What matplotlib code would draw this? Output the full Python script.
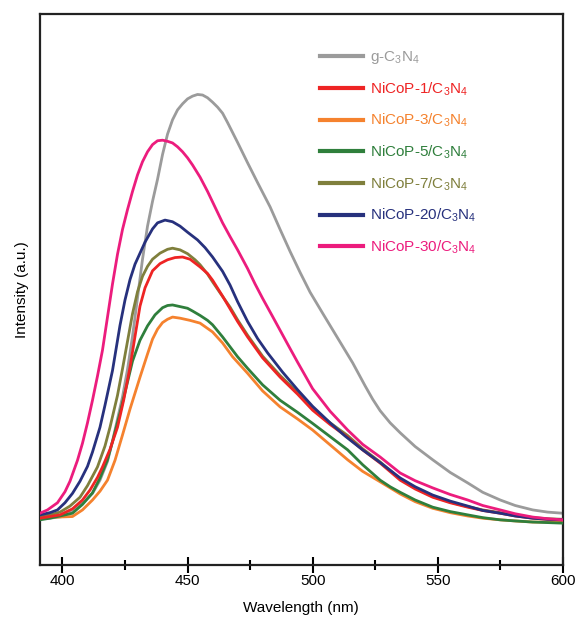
import matplotlib
matplotlib.use("Agg")
import matplotlib.pyplot as plt
from matplotlib.ticker import MultipleLocator

plt.rcParams["font.family"] = ["Liberation Sans", "DejaVu Sans"]
plt.rcParams["mathtext.default"] = "regular"

# PL spectra (wavelength in nm, intensity in a.u.)
wl_g = [391, 395, 400, 403, 406, 409, 412, 415, 418, 420, 422, 424, 426, 428, 430, 432,
        434, 436, 438, 440, 442, 444, 446, 448, 450, 452, 454, 456, 458, 460, 462, 464,
        466, 468, 470, 474, 478, 483, 487, 491, 495, 499, 504, 510, 516, 521, 524, 527,
        531, 535, 541, 548, 555, 562, 568, 575, 581, 588, 594, 600]
int_g = [8.4, 8.5, 8.8, 9.6, 10.6, 11.6, 13.0, 15.4, 18.8, 22.5, 26.5, 30.5, 35.5, 41.5,
         48.5, 55.5, 61.5, 66.0, 70.0, 74.5, 78.2, 80.8, 82.6, 83.7, 84.6, 85.1, 85.4, 85.3,
         84.8, 84.0, 83.1, 82.0, 80.3, 78.5, 76.7, 73.0, 69.4, 65.0, 60.9, 56.9, 53.1, 49.5,
         45.7, 41.2, 36.7, 32.5, 30.1, 28.0, 25.8, 24.0, 21.5, 19.1, 16.8, 14.9, 13.2, 11.8,
         10.8, 10.0, 9.6, 9.4]

wl_1 = [391, 395, 399, 404, 408, 411, 414, 416, 419, 422, 424.5, 427, 429, 431, 433, 436,
        439, 442, 445, 448, 451, 455, 458, 460, 464, 467, 470, 474, 480, 487, 494, 500,
        507, 514, 520, 527, 535, 541, 548, 555, 562, 568, 575, 581, 588, 594, 600]
int_1 = [8.5, 8.8, 9.1, 10.2, 11.8, 13.6, 15.9, 17.8, 21.0, 25.0, 30.0, 35.9, 41.5, 47.0,
         50.3, 53.4, 54.7, 55.4, 55.8, 55.9, 55.5, 54.1, 52.9, 51.7, 48.8, 46.5, 44.2, 41.4,
         37.6, 34.1, 31.0, 28.1, 25.5, 23.2, 20.9, 18.5, 15.4, 13.8, 12.3, 11.3, 10.5, 9.9,
         9.4, 8.9, 8.5, 8.3, 8.2]

wl_3 = [391, 398, 404, 408, 412, 415, 418, 421, 424, 427, 431, 434, 436, 438, 440, 442,
        444, 447, 451, 455, 460, 464, 468, 474, 480, 487, 494, 500, 507, 514, 520, 527,
        531, 535, 541, 548, 555, 562, 568, 575, 581, 588, 594, 600]
int_3 = [8.7, 8.7, 8.8, 10.0, 11.8, 13.4, 15.4, 19.0, 23.6, 28.3, 34.1, 38.3, 41.0, 42.8,
         44.0, 44.6, 45.0, 44.8, 44.4, 43.9, 42.3, 40.3, 37.8, 34.8, 31.6, 28.7, 26.5, 24.5,
         21.8, 19.1, 17.0, 15.1, 14.0, 12.9, 11.5, 10.3, 9.5, 8.9, 8.5, 8.2, 8.0, 7.8, 7.8,
         7.8]

wl_5 = [391, 395, 400, 404, 408, 412, 415, 418, 420, 423, 426, 428, 431, 434, 437, 440,
        442, 444, 447, 450, 452, 455, 458, 460, 464, 467, 470, 474, 480, 487, 494, 500,
        507, 514, 520, 527, 531, 535, 541, 548, 555, 562, 568, 575, 581, 588, 594, 600]
int_5 = [8.2, 8.5, 9.0, 9.4, 11.0, 13.1, 15.8, 19.1, 22.4, 27.6, 33.2, 37.0, 40.8, 43.4,
         45.4, 46.7, 47.1, 47.2, 46.9, 46.6, 46.1, 45.3, 44.4, 43.6, 41.4, 39.6, 37.8, 35.7,
         32.7, 29.9, 27.7, 25.7, 23.3, 20.9, 18.2, 15.4, 14.2, 13.2, 11.8, 10.5, 9.7, 9.1,
         8.6, 8.2, 8.0, 7.8, 7.7, 7.6]

wl_7 = [391, 395, 399, 403, 407, 410, 414, 417, 419, 422, 424, 426, 428, 430, 432, 434,
        436, 439, 442, 444, 447, 450, 453, 455, 458, 460, 463, 467, 470, 474, 480, 487,
        494, 500, 507, 514, 520, 527, 535, 541, 548, 555, 562, 568, 575, 581, 588, 594, 600]
int_7 = [8.7, 9.1, 9.6, 10.7, 12.3, 14.4, 17.8, 21.6, 25.0, 30.8, 35.6, 40.6, 45.6, 49.6,
         52.4, 54.2, 55.5, 56.6, 57.3, 57.5, 57.2, 56.5, 55.4, 54.5, 52.8, 51.4, 49.4, 46.8,
         44.5, 41.7, 37.9, 34.4, 31.3, 28.4, 25.8, 23.5, 21.1, 18.7, 15.6, 14.0, 12.5, 11.4,
         10.6, 10.0, 9.5, 9.0, 8.6, 8.4, 8.3]

wl_20 = [391, 395, 398, 401, 404, 407, 410, 412, 415, 417, 420, 423, 425, 427, 429, 431,
         433, 436, 438, 441, 444, 447, 450, 454, 457, 460, 464, 467, 470, 474, 478, 482,
         488, 494, 500, 507, 513, 520, 527, 535, 541, 548, 555, 562, 568, 575, 581, 588,
         594, 600]
int_20 = [9.1, 9.5, 10.0, 11.3, 13.0, 15.2, 17.9, 20.5, 25.0, 29.0, 35.3, 43.5, 48.1, 51.8,
          54.6, 56.6, 58.6, 61.0, 62.1, 62.6, 62.3, 61.5, 60.4, 59.0, 57.6, 55.9, 53.3, 50.8,
          47.8, 44.2, 41.1, 38.5, 35.0, 31.8, 28.8, 25.8, 23.4, 20.9, 18.6, 15.8, 14.2, 12.7,
          11.6, 10.7, 9.9, 9.4, 8.9, 8.5, 8.3, 8.2]

wl_30 = [391, 394, 398, 401, 403, 406, 408, 410, 412, 414, 416, 418, 420, 422, 424, 426,
         428, 430, 432, 434, 436, 438, 440, 442, 444, 446, 448, 450, 452, 455, 458, 460,
         462, 464, 467, 470, 474, 477, 480, 484, 487, 490, 494, 500, 507, 514, 520, 527,
         535, 541, 548, 555, 562, 568, 575, 581, 588, 594, 600]
int_30 = [9.4, 10.0, 11.3, 13.3, 15.2, 19.0, 22.1, 25.8, 29.9, 34.3, 39.0, 45.0, 51.0, 56.4,
          60.9, 64.5, 67.8, 70.8, 73.2, 75.0, 76.3, 77.0, 77.1, 76.9, 76.6, 75.9, 75.0, 73.9,
          72.6, 70.4, 67.8, 65.9, 64.0, 62.1, 59.6, 57.2, 53.8, 51.0, 48.4, 45.1, 42.6, 40.1,
          36.8, 32.0, 27.9, 24.5, 21.9, 19.6, 16.7, 15.3, 14.0, 12.8, 11.8, 10.8, 10.0, 9.3,
          8.7, 8.4, 8.2]

labels = ["g-C$_3$N$_4$", "NiCoP-1/C$_3$N$_4$", "NiCoP-3/C$_3$N$_4$", "NiCoP-5/C$_3$N$_4$",
          "NiCoP-7/C$_3$N$_4$", "NiCoP-20/C$_3$N$_4$", "NiCoP-30/C$_3$N$_4$"]
colors = ["#9b9b9b", "#ee2424", "#f5822e", "#2f7f3c", "#7f7f3c", "#27317d", "#ec1c7d"]


def main():
    fig = plt.figure(figsize=(5.79, 6.26), dpi=100)
    ax = fig.add_axes([0.069, 0.0974, 0.903, 0.8802])

    series = [(wl_g, int_g), (wl_1, int_1), (wl_3, int_3), (wl_5, int_5),
              (wl_7, int_7), (wl_20, int_20), (wl_30, int_30)]
    zorders = [2, 6, 3, 4, 5, 6.5, 7]
    handles = []
    for (x, y), lab, c, z in zip(series, labels, colors, zorders):
        h, = ax.plot(x, y, color=c, lw=2.0, label=lab, zorder=z,
                     solid_joinstyle="round")
        handles.append(h)

    ax.set_xlim(391, 600)
    ax.set_ylim(0, 100)
    ax.xaxis.set_major_locator(MultipleLocator(50))
    ax.xaxis.set_minor_locator(MultipleLocator(25))
    ax.tick_params(axis="x", which="major", direction="inout", length=11, width=1.5,
                   labelsize=11, pad=1)
    ax.tick_params(axis="x", which="minor", direction="inout", length=7, width=1.5)
    ax.set_yticks([])
    for s in ax.spines.values():
        s.set_linewidth(1.6)
        s.set_color("#222222")

    ax.set_xlabel("Wavelength (nm)", fontsize=11, labelpad=9)
    ax.set_ylabel("Intensity (a.u.)", fontsize=11, labelpad=8)

    leg = ax.legend(handles=handles, loc="upper left", bbox_to_anchor=(0.521, 0.95),
                    frameon=False, fontsize=11, handlelength=2.8, handletextpad=0.45,
                    labelspacing=0.93, borderpad=0)
    for t, c in zip(leg.get_texts(), colors):
        t.set_color(c)
    for line in leg.get_lines():
        line.set_linewidth(3.0)

    fig.savefig("out.png", dpi=100)
    plt.close(fig)


if __name__ == "__main__":
    main()
